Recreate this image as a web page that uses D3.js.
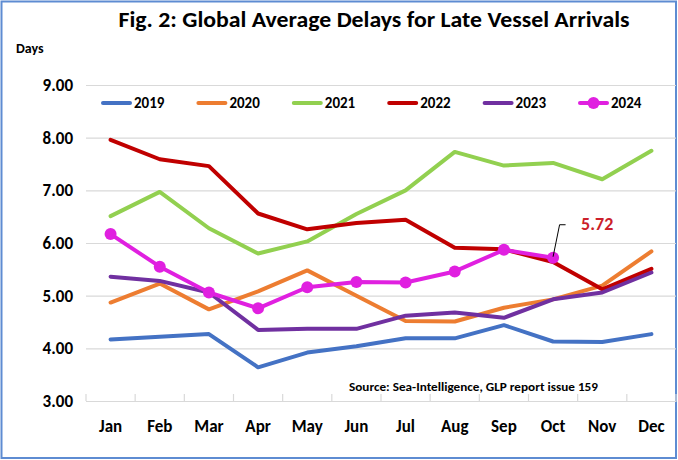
<!DOCTYPE html>
<html>
<head>
<meta charset="utf-8">
<script src="https://cdn.jsdelivr.net/npm/d3@7"></script>
<style>
  body { margin: 0; background: #fff; }
  text { font-family: Carlito, Calibri, Lato, sans-serif; }
</style>
</head>
<body>
<script>
const width = 678;
const height = 460;

// Dati (giorni di ritardo medio)
const months = ["Jan", "Feb", "Mar", "Apr", "May", "Jun", "Jul", "Aug", "Sep", "Oct", "Nov", "Dec"];
const years = ["2019", "2020", "2021", "2022", "2023", "2024"];
const values2019 = [4.17, 4.22, 4.27, 3.64, 3.92, 4.04, 4.19, 4.19, 4.44, 4.13, 4.12, 4.27];
const values2020 = [4.87, 5.23, 4.74, 5.08, 5.48, 5.00, 4.52, 4.51, 4.77, 4.93, 5.19, 5.84];
const values2021 = [6.51, 6.97, 6.28, 5.80, 6.03, 6.55, 7.00, 7.73, 7.47, 7.52, 7.21, 7.75];
const values2022 = [7.96, 7.59, 7.46, 6.56, 6.26, 6.38, 6.44, 5.91, 5.88, 5.64, 5.12, 5.51];
const values2023 = [5.36, 5.28, 5.06, 4.35, 4.37, 4.37, 4.62, 4.68, 4.58, 4.93, 5.06, 5.44];
const values2024 = [6.17, 5.55, 5.06, 4.76, 5.16, 5.26, 5.25, 5.46, 5.87, 5.72];
const yTicks = [3, 4, 5, 6, 7, 8, 9];
const lastLabel = "5.72";

const seriesValues = [values2019, values2020, values2021, values2022, values2023, values2024];
const colors = ["#4472C4", "#ED7D31", "#92D050", "#C00000", "#7030A0", "#E020E0"];

const series = years.map((y, i) => ({
	year: y,
	color: colors[i],
	markers: y === "2024",
	points: seriesValues[i].map((v, j) => ({ month: months[j], value: v }))
}));

const svg = d3.select("body")
	.append("svg")
	.attr("width", width)
	.attr("height", height);

// Cornice
svg.append("rect")
	.attr("x", 1.5).attr("y", 1.5)
	.attr("width", width - 3.5).attr("height", height - 3.5)
	.attr("fill", "#fff")
	.attr("stroke", "#5E8CD2")
	.attr("stroke-width", 2);

// Scale
const x = d3.scaleBand().domain(months).range([86, 676]);
const y = d3.scaleLinear().domain([3, 9]).range([401, 85]);
const cx = m => x(m) + x.bandwidth() / 2;

// Griglia e asse Y
const yAxis = svg.append("g")
	.attr("transform", "translate(86,0)")
	.call(d3.axisLeft(y).tickValues(yTicks).tickFormat(d3.format(".2f"))
		.tickSize(-(676 - 86)).tickPadding(13));
yAxis.select(".domain").remove();
yAxis.selectAll(".tick line").attr("stroke", "#D9D9D9").attr("stroke-width", 1.2);
yAxis.selectAll(".tick text")
	.attr("fill", "#000")
	.style("font-size", "17px")
	.style("font-weight", "bold");

// Asse X
const xAxis = svg.append("g")
	.attr("transform", "translate(0,401)")
	.call(d3.axisBottom(x).tickSize(0).tickPadding(19));
xAxis.select(".domain").attr("stroke", "#D9D9D9").attr("stroke-width", 1.2);
xAxis.selectAll(".tick text")
	.attr("fill", "#000")
	.style("font-size", "17px")
	.style("font-weight", "bold");

// Tacche tra le categorie
const boundaries = months.map(m => x(m)).concat([x.range()[1]]);
svg.append("g").selectAll("line")
	.data(boundaries)
	.join("line")
	.attr("x1", d => d).attr("x2", d => d)
	.attr("y1", 401).attr("y2", 394)
	.attr("stroke", "#D9D9D9")
	.attr("stroke-width", 1.2);

// Linee
const line = d3.line()
	.x(d => cx(d.month))
	.y(d => y(d.value));

svg.append("g").selectAll("path")
	.data(series)
	.join("path")
	.attr("d", d => line(d.points))
	.attr("fill", "none")
	.attr("stroke", d => d.color)
	.attr("stroke-width", 4)
	.attr("stroke-linejoin", "round")
	.attr("stroke-linecap", "round");

// Marcatori 2024
const s2024 = series.find(s => s.markers);
svg.append("g").selectAll("circle")
	.data(s2024.points)
	.join("circle")
	.attr("cx", d => cx(d.month))
	.attr("cy", d => y(d.value))
	.attr("r", 6)
	.attr("fill", s2024.color);

// Etichetta ultimo valore
const last = s2024.points[s2024.points.length - 1];
const lx = cx(last.month), ly = y(last.value);
svg.append("path")
	.attr("d", `M${lx},${ly - 1} L${lx + 6.5},${ly - 33} L${lx + 12.5},${ly - 33}`)
	.attr("fill", "none")
	.attr("stroke", "#000")
	.attr("stroke-width", 1);
svg.append("text")
	.attr("x", lx + 28)
	.attr("y", ly - 27.5)
	.attr("fill", "#CC1F2B")
	.style("font-size", "18px")
	.style("font-weight", "bold")
	.text(lastLabel);

// Legenda
const legend = svg.append("g").attr("transform", "translate(103,103)");
const item = legend.selectAll("g")
	.data(series)
	.join("g")
	.attr("transform", (d, i) => `translate(${i * 95.4},0)`);
item.append("line")
	.attr("x1", 0).attr("x2", 27)
	.attr("stroke", d => d.color)
	.attr("stroke-width", 4)
	.attr("stroke-linecap", "round");
item.filter(d => d.markers).append("circle")
	.attr("cx", 13.5).attr("r", 6)
	.attr("fill", d => d.color);
item.append("text")
	.attr("x", 31)
	.attr("dy", "0.36em")
	.attr("fill", "#000")
	.style("font-size", "15px")
	.style("font-weight", "bold")
	.text(d => d.year);

// Titolo e testi
svg.append("text")
	.attr("x", 374)
	.attr("y", 27)
	.attr("text-anchor", "middle")
	.attr("fill", "#000")
	.attr("textLength", 511)
	.attr("lengthAdjust", "spacingAndGlyphs")
	.style("font-size", "22px")
	.style("font-weight", "bold")
	.text("Fig. 2: Global Average Delays for Late Vessel Arrivals");

svg.append("text")
	.attr("x", 16)
	.attr("y", 53)
	.attr("fill", "#000")
	.style("font-size", "14px")
	.style("font-weight", "bold")
	.text("Days");

svg.append("text")
	.attr("x", 349)
	.attr("y", 391)
	.attr("fill", "#000")
	.attr("textLength", 249)
	.attr("lengthAdjust", "spacingAndGlyphs")
	.style("font-size", "12.5px")
	.style("font-weight", "600")
	.text("Source: Sea-Intelligence, GLP report issue 159");
</script>
</body>
</html>
